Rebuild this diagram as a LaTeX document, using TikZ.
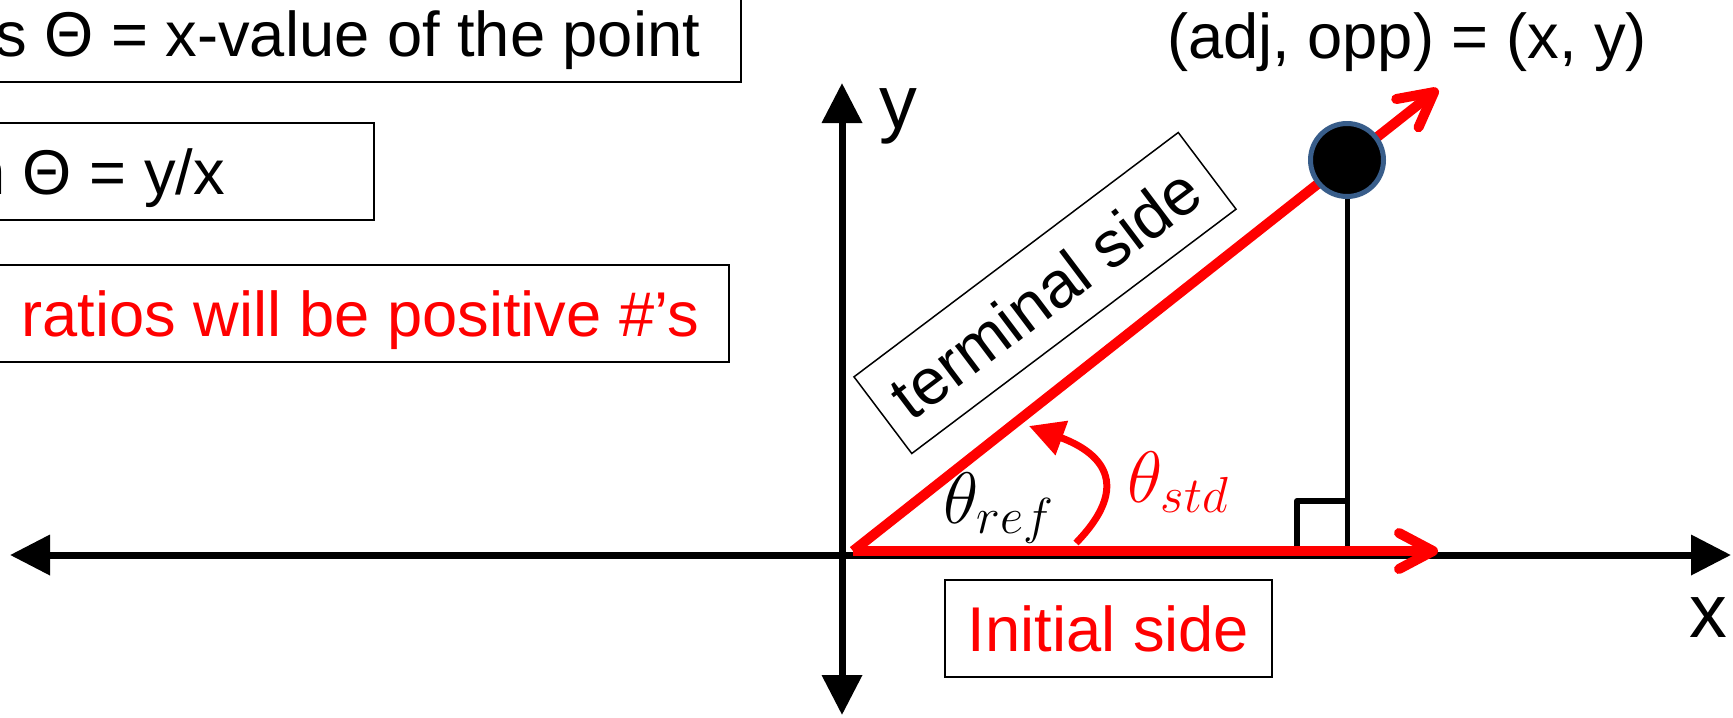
\documentclass[tikz,border=0pt]{standalone}
\usepackage{fontspec}
\setmainfont{Liberation Sans}
\usepackage{xcolor}
\usepackage{tikz}
\usetikzlibrary{arrows.meta}

\definecolor{dotblue}{HTML}{385D8A}

\begin{document}
\begin{tikzpicture}[
    x=0.1mm, y=0.1mm,
    axisline/.style={line width=0.7mm, {Triangle[length=4mm, width=3.9mm]}-{Triangle[length=4mm, width=3.9mm]}},
    redside/.style={draw=red, line width=1mm, -{Straight Barb[length=3.4mm, width=3.6mm, round]}},
    infobox/.style={rectangle, draw, line width=0.18mm, minimum height=9.7mm, text height=4.55mm, text depth=0pt, font=\fontsize{18}{21}\selectfont},
    tbox/.style={rectangle, draw, line width=0.15mm, minimum width=40.6mm, minimum height=9.6mm, inner sep=0pt, font=\fontsize{18.5}{22}\selectfont},
    lbl/.style={inner sep=0pt, font=\fontsize{21.5}{24}\selectfont},
    anglbl/.style={inner sep=0pt, font=\fontsize{20}{24}\selectfont},
    pointdot/.style={circle, fill=black, draw=dotblue, line width=0.5mm, minimum size=7.3mm, inner sep=0pt}
]
    \useasboundingbox (0,0) rectangle (1733,717);
    \clip (0,0) rectangle (1733,717);

    % axes
    \coordinate (O) at (842,162);
    \coordinate (xl) at (10,162);
    \coordinate (xr) at (1731,162);
    \coordinate (yt) at (842,634);
    \coordinate (yb) at (842,2);
    \draw [axisline] (xl) -- (xr);
    \draw [axisline] (yb) -- (yt);
    \node [lbl] (ylab) at (898,601) {y};
    \node [lbl] (xlab) at (1708,99) {x};

    % boxes on the left
    \node [infobox, anchor=east, inner xsep=4.1mm] (cosbox) at (742,683.5) {s Θ = x-value of the point};
    \node [infobox, anchor=east, inner xsep=14.9mm] (tanbox) at (375,545.5) {n Θ = y/x};
    \node [infobox, anchor=east, inner xsep=3mm, text=red] (signbox) at (730,403.5) {ratios will be positive \#’s};

    \node [anchor=base, font=\fontsize{18}{21}\selectfont] (ptlab) at (1407,659) {(adj, opp) = (x, y)};

    % triangle
    \coordinate (P) at (1347,557);
    \coordinate (F) at (P |- O);
    \coordinate (R) at (853,166);
    \coordinate (T) at (1438,628);
    \coordinate (I) at (1438,166);
    \draw [line width=0.5mm] (P) -- (F);
    \draw [line width=0.6mm, line join=round] ([xshift=-5mm]F) |- ([yshift=5.4mm]F);
    \draw [redside] (R) -- (I);
    \draw [redside] (R) -- (T);
    \node [pointdot] (dot) at (P) {};

    \node [tbox, rotate=37] (term) at (1045,424) {terminal side};
    \node [infobox, text=red, minimum width=32.7mm] (init) at (1108.5,88.5) {Initial side};

    % angle
    \node [anglbl, anchor=base west] (ref) at (943,194) {$\theta_{\mbox{\fontsize{15}{15}\selectfont$ref$}}$};
    \node [anglbl, anchor=base west, text=red] (std) at (1127,215) {$\theta_{\mbox{\fontsize{15}{15}\selectfont$std$}}$};
    \coordinate (a0) at (1076,174);
    \coordinate (a1) at (1029,291);
    \draw [red, line width=0.7mm, -{Triangle[length=3.5mm, width=3.5mm]}] (a0) .. controls (1140,240) and (1089,269) .. (a1);
\end{tikzpicture}
\end{document}
